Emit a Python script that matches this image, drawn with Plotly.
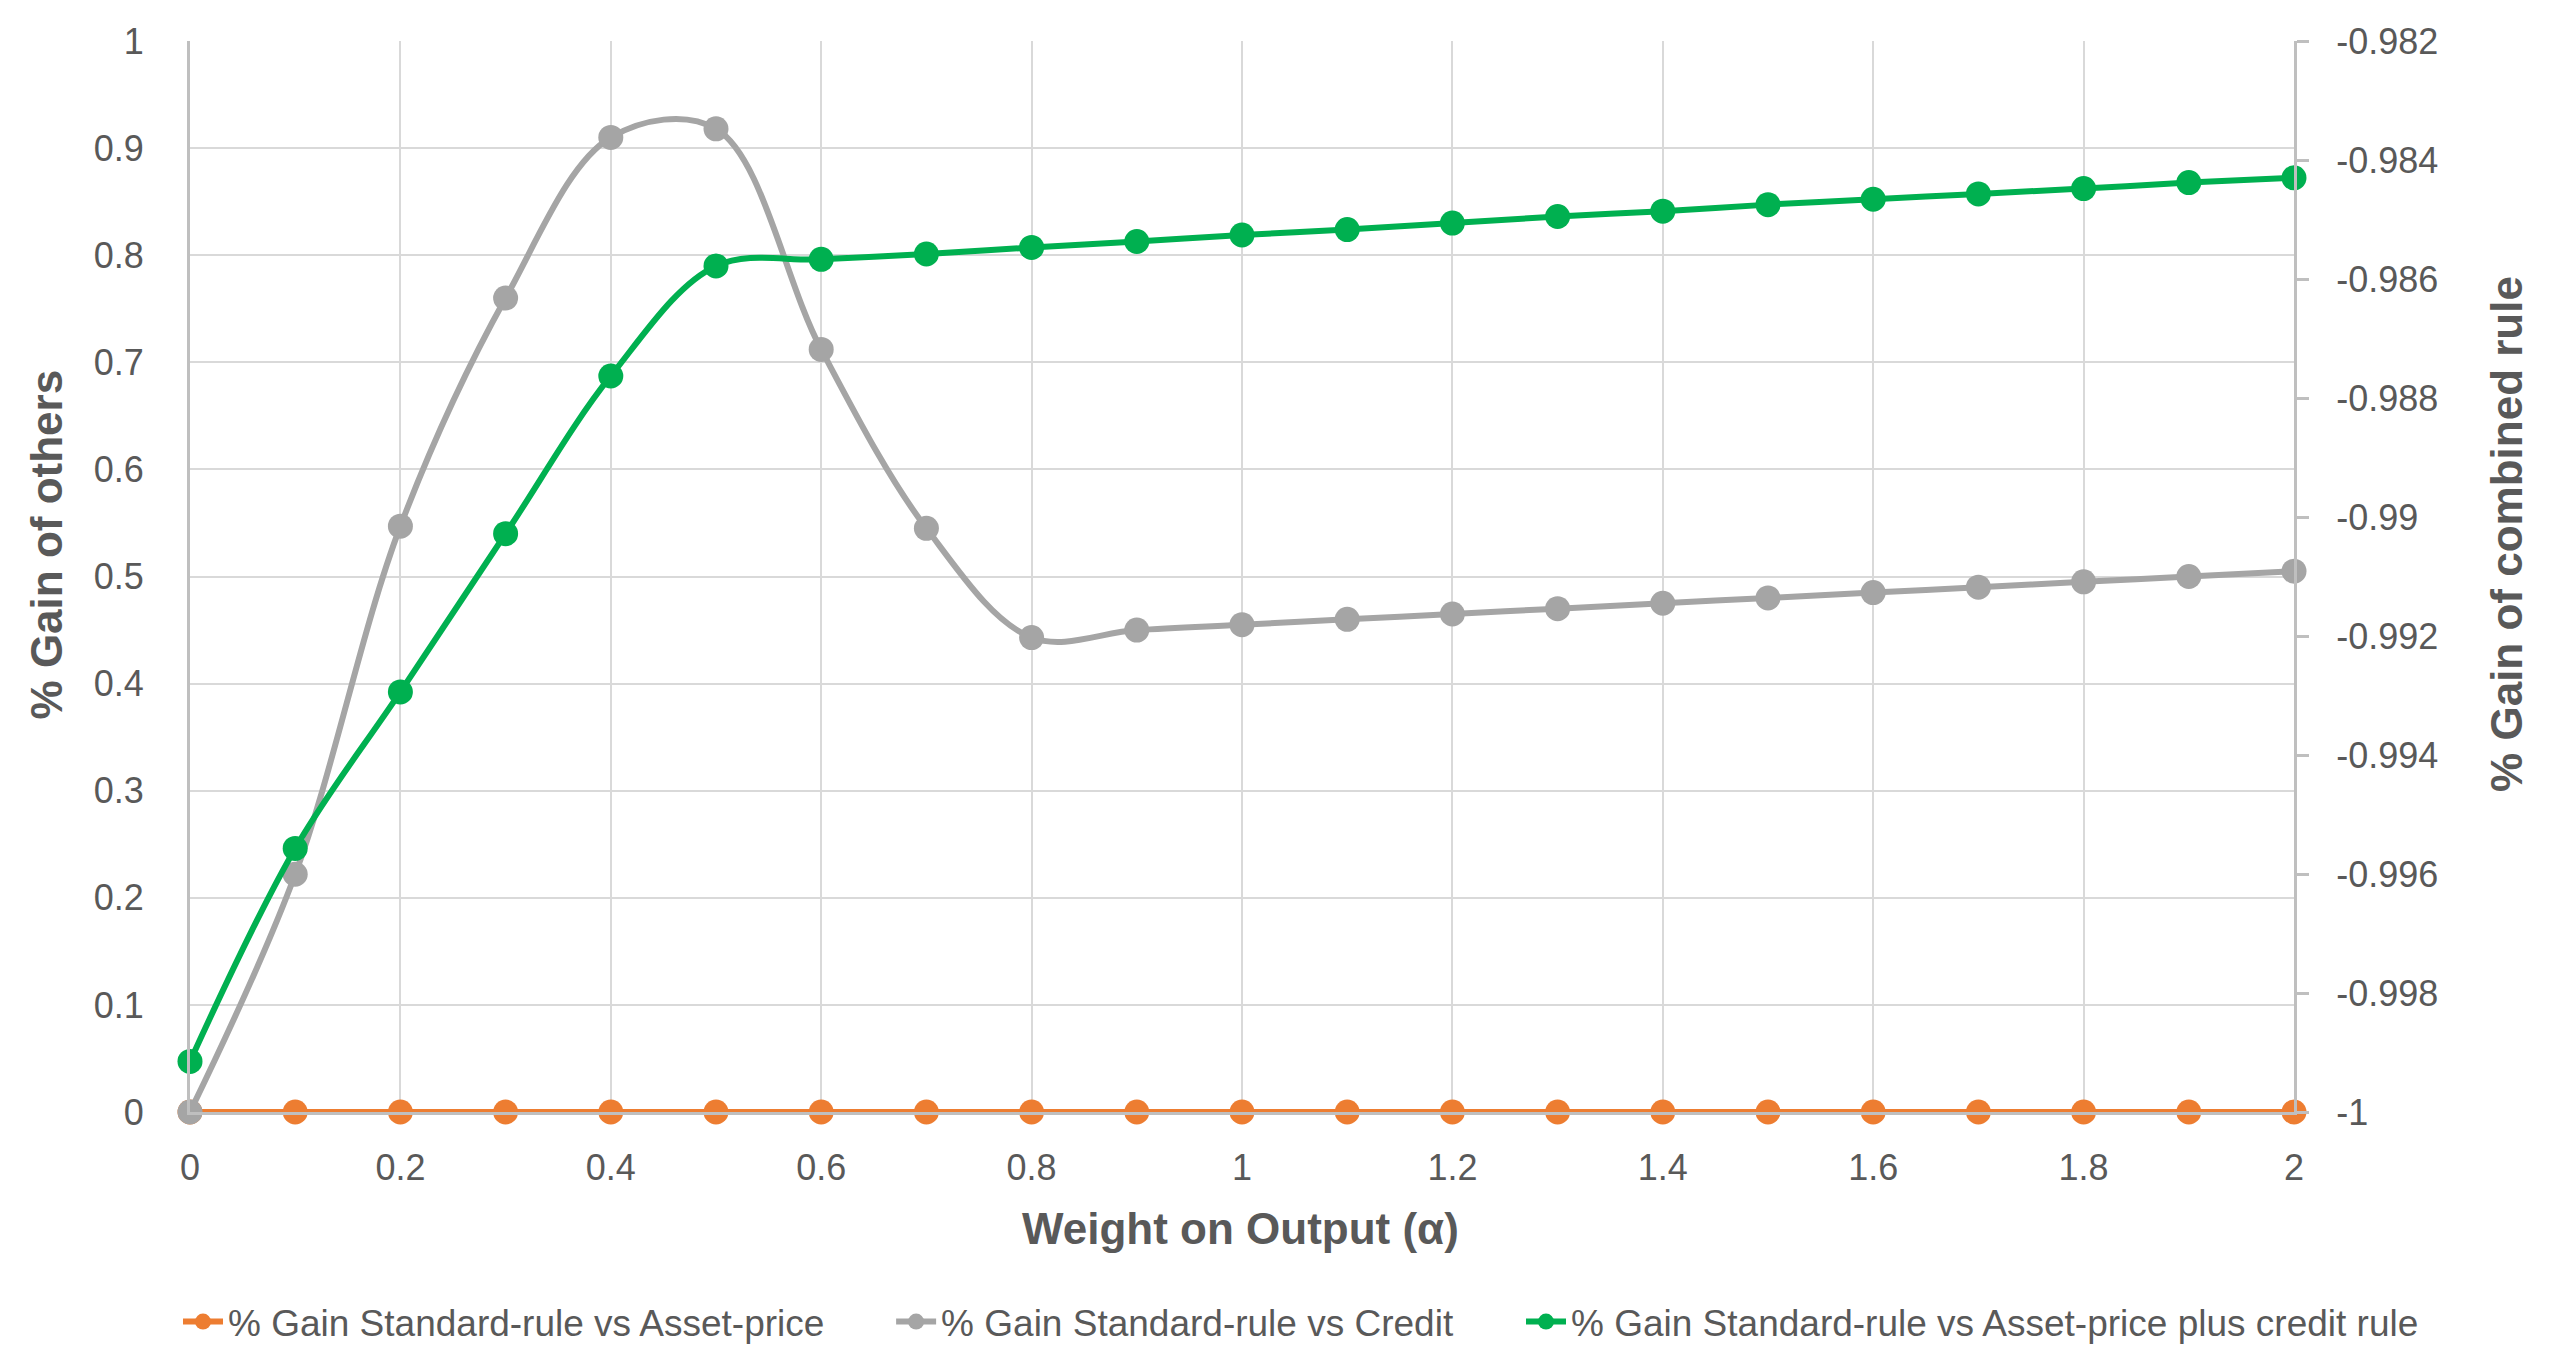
import plotly.graph_objects as go

# ---- data ----
alpha = [0, 0.1, 0.2, 0.3, 0.4, 0.5, 0.6, 0.7, 0.8, 0.9, 1.0,
         1.1, 1.2, 1.3, 1.4, 1.5, 1.6, 1.7, 1.8, 1.9, 2.0]
gain_asset_price = [0] * 21
gain_credit = [0.0, 0.222, 0.547, 0.760, 0.910, 0.918, 0.712, 0.545, 0.443, 0.450, 0.455,
               0.460, 0.465, 0.470, 0.475, 0.480, 0.485, 0.490, 0.495, 0.500, 0.505]
gain_combined = [-0.99915, -0.99557, -0.99294, -0.99028, -0.98763, -0.98578, -0.98567,
                 -0.98558, -0.98547, -0.98537, -0.98526, -0.98517, -0.98506, -0.98495,
                 -0.98486, -0.98475, -0.98466, -0.98457, -0.98448, -0.98438, -0.98430]

x_tickvals = [0, 0.2, 0.4, 0.6, 0.8, 1.0, 1.2, 1.4, 1.6, 1.8, 2.0]
x_ticktext = ["0", "0.2", "0.4", "0.6", "0.8", "1", "1.2", "1.4", "1.6", "1.8", "2"]
y_tickvals = [0, 0.1, 0.2, 0.3, 0.4, 0.5, 0.6, 0.7, 0.8, 0.9, 1.0]
y_ticktext = ["0", "0.1", "0.2", "0.3", "0.4", "0.5", "0.6", "0.7", "0.8", "0.9", "1"]
y2_tickvals = [-1.0, -0.998, -0.996, -0.994, -0.992, -0.99, -0.988, -0.986, -0.984, -0.982]
y2_ticktext = ["-1", "-0.998", "-0.996", "-0.994", "-0.992", "-0.99", "-0.988",
               "-0.986", "-0.984", "-0.982"]

names = ["% Gain Standard-rule vs Asset-price",
         "% Gain Standard-rule vs Credit",
         "% Gain Standard-rule vs Asset-price plus credit rule"]
colors = ["#ED7D31", "#A5A5A5", "#00B050"]

FONT = "Liberation Sans"
TXT = "#595959"
GRID = "#D9D9D9"
AXIS = "#BFBFBF"

LW = 6
MS = 25

fig = go.Figure()
fig.add_trace(go.Scatter(x=alpha, y=gain_asset_price, name=names[0], mode="lines+markers",
                         legend="legend",
                         line=dict(color=colors[0], width=LW, shape="spline"),
                         marker=dict(color=colors[0], size=MS), cliponaxis=False))
fig.add_trace(go.Scatter(x=alpha, y=gain_credit, name=names[1], mode="lines+markers",
                         legend="legend2",
                         line=dict(color=colors[1], width=LW, shape="spline", smoothing=1),
                         marker=dict(color=colors[1], size=MS), cliponaxis=False))
fig.add_trace(go.Scatter(x=alpha, y=gain_combined, name=names[2], mode="lines+markers",
                         yaxis="y2", legend="legend3",
                         line=dict(color=colors[2], width=LW, shape="spline", smoothing=1),
                         marker=dict(color=colors[2], size=MS), cliponaxis=False))

def leg(xpos):
    return dict(orientation="h", xref="container", yref="container",
                x=xpos, xanchor="left", y=0.0338, yanchor="middle",
                font=dict(family=FONT, size=37, color=TXT), itemwidth=40,
                bgcolor="rgba(0,0,0,0)")

fig.update_layout(
    width=2545, height=1360,
    margin=dict(l=182, r=259, t=33, b=256, autoexpand=False),
    paper_bgcolor="white", plot_bgcolor="white",
    font=dict(family=FONT, color=TXT, size=36),
    showlegend=True,
    legend=leg(0.0668),
    legend2=leg(0.347),
    legend3=leg(0.5945),
    xaxis=dict(range=[0, 2], tickvals=x_tickvals, ticktext=x_ticktext,
               showgrid=True, gridcolor=GRID, gridwidth=2, zeroline=False,
               showline=True, linecolor=AXIS, linewidth=3,
               ticks="", ticklabelstandoff=22,
               tickfont=dict(family=FONT, size=36, color=TXT)),
    yaxis=dict(range=[0, 1], tickvals=y_tickvals, ticktext=y_ticktext,
               showgrid=True, gridcolor=GRID, gridwidth=2, zeroline=False,
               showline=True, linecolor=AXIS, linewidth=3,
               ticks="", ticklabelstandoff=36,
               tickfont=dict(family=FONT, size=36, color=TXT)),
    yaxis2=dict(range=[-1.0, -0.982], tickvals=y2_tickvals, ticktext=y2_ticktext,
                overlaying="y", side="right", showgrid=False, zeroline=False,
                showline=True, linecolor=AXIS, linewidth=3,
                ticks="outside", ticklen=12, tickwidth=3, tickcolor=AXIS,
                ticklabelstandoff=20,
                tickfont=dict(family=FONT, size=36, color=TXT)),
    annotations=[
        dict(text="<b>Weight on Output (α)</b>", xref="paper", yref="paper",
             x=0.4995, y=-0.109, xanchor="center", yanchor="middle", showarrow=False,
             font=dict(family=FONT, size=44, color=TXT)),
        dict(text="<b>% Gain of others</b>", xref="paper", yref="paper",
             x=-0.0684, y=0.530, xanchor="center", yanchor="middle", showarrow=False,
             textangle=-90, font=dict(family=FONT, size=44, color=TXT)),
        dict(text="<b>% Gain of combined rule</b>", xref="paper", yref="paper",
             x=1.1012, y=0.5397, xanchor="center", yanchor="middle", showarrow=False,
             textangle=-90, font=dict(family=FONT, size=44, color=TXT)),
    ],
)

fig.write_html("out.html")
